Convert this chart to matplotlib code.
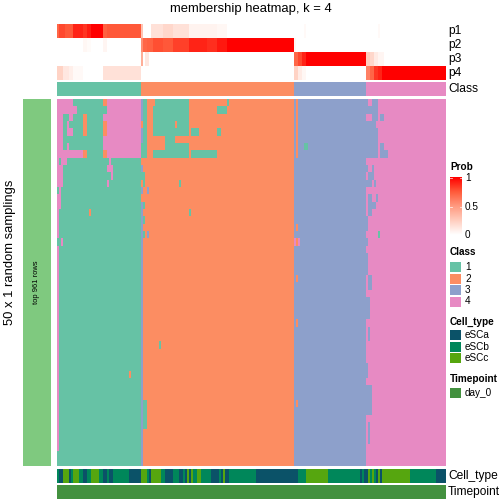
import numpy as np
import matplotlib
matplotlib.use('Agg')
import matplotlib.pyplot as plt
from matplotlib.colors import ListedColormap, LinearSegmentedColormap
from matplotlib.patches import Rectangle

plt.rcParams['font.family'] = ['Liberation Sans', 'DejaVu Sans']

W = H = 504
n_rows = 50

class_names = ['1', '2', '3', '4']
class_sizes = [42, 76, 36, 40]
class_colors = ['#66C2A5', '#FC8D62', '#8DA0CB', '#E78AC3']

# membership probabilities, run-length (ncols, value) read across columns
p1_runs = [(1, .7), (3, .8), (4, .75), (5, .9), (2, .85), (2, .92), (6, 1.), (2, .72), (17, .75),
           (1, .3), (4, 0), (6, .15), (5, .2), (8, .15), (14, .06), (5, .04), (33, 0),
           (5, 0), (1, .03), (30, 0), (6, 0), (1, .03), (33, 0)]
p2_runs = [(13, 0), (2, .04), (2, .02), (6, 0), (2, .05), (17, 0),
           (1, .55), (2, .7), (3, .72), (5, .78), (5, .75), (8, .82), (9, .9), (5, .87), (5, .93), (33, 1.),
           (1, .04), (35, 0), (40, 0)]
p3_runs = [(42, 0), (1, .4), (1, 0), (2, .12), (72, 0),
           (2, .7), (2, .8), (2, .9), (30, 1.),
           (2, .25), (2, .2), (2, .1), (3, .05), (31, 0)]
p4_runs = [(3, .22), (3, .12), (2, .08), (5, .03), (10, 0), (2, .15), (17, .15),
           (76, 0),
           (2, .22), (2, .1), (2, .04), (30, 0),
           (2, .6), (2, .7), (2, .85), (2, .9), (32, 1.)]

# cell type per column, run-length (type, ncols)
cell_types = ['eSCa', 'eSCb', 'eSCc']
cell_colors = ['#0B5268', '#00875A', '#56A60F']
cell_runs = [('b', 1), ('a', 2), ('c', 3), ('a', 1), ('b', 1), ('c', 3), ('b', 2), ('a', 2), ('b', 2),
             ('c', 4), ('b', 2), ('a', 2), ('b', 1), ('a', 2), ('b', 8), ('a', 6),
             ('c', 3), ('b', 1), ('a', 1), ('c', 5), ('b', 2), ('a', 4), ('b', 3), ('a', 2), ('b', 1),
             ('a', 1), ('c', 1), ('a', 1), ('c', 1), ('b', 2), ('c', 2), ('b', 5), ('a', 4), ('b', 1),
             ('a', 1), ('c', 1), ('a', 2), ('b', 13), ('a', 21),
             ('b', 4), ('c', 11), ('b', 16), ('a', 1), ('b', 1), ('a', 2), ('c', 1), ('b', 1), ('c', 1),
             ('b', 1), ('a', 1), ('c', 1), ('a', 1), ('c', 14), ('b', 13), ('a', 5)]
timepoint_color = '#43913F'

# class calls in the 50 samplings that differ from the consensus: (row0, row1, col0, col1, class)
overrides = [
    (0, 1, 0, 8, 4), (0, 1, 23, 25, 2), (0, 1, 25, 42, 4),
    (1, 2, 0, 10, 4), (1, 2, 25, 42, 4),
    (2, 3, 0, 3, 4), (2, 3, 6, 8, 4), (2, 3, 13, 15, 2), (2, 3, 23, 42, 4),
    (3, 4, 0, 3, 4), (3, 4, 5, 6, 4), (3, 4, 13, 15, 2), (3, 4, 23, 25, 2), (3, 4, 25, 42, 4),
    (4, 5, 0, 3, 4), (4, 5, 5, 8, 4), (4, 5, 13, 15, 2), (4, 5, 23, 25, 2), (4, 5, 25, 42, 4),
    (5, 6, 0, 3, 4), (5, 6, 23, 42, 4),
    (6, 7, 0, 3, 4), (6, 7, 5, 6, 4), (6, 7, 23, 42, 4),
    (7, 8, 0, 13, 4), (7, 8, 13, 15, 2), (7, 8, 23, 25, 2), (7, 8, 25, 42, 4),
    (8, 9, 0, 1, 4), (8, 9, 2, 5, 4), (8, 9, 26, 27, 4),
    (9, 10, 0, 3, 4), (9, 10, 25, 28, 4),
    (10, 11, 0, 3, 4), (10, 11, 27, 28, 4),
    (11, 12, 0, 3, 4), (11, 12, 25, 26, 4),
    (12, 13, 1, 2, 4), (13, 15, 0, 2, 4), (15, 16, 0, 1, 4), (15, 16, 16, 17, 2),
    (16, 19, 0, 1, 4), (19, 20, 2, 3, 4), (20, 48, 0, 1, 4), (37, 38, 36, 37, 2),
    # class 2 block
    (0, 3, 42, 43, 3), (4, 6, 42, 43, 3), (6, 8, 42, 43, 1), (0, 8, 43, 45, 1),
    (0, 1, 49, 66, 1), (0, 1, 85, 86, 1),
    (1, 2, 48, 66, 1), (1, 2, 80, 85, 1),
    (2, 3, 48, 66, 1),
    (3, 4, 48, 59, 1), (3, 4, 60, 66, 1),
    (4, 5, 48, 66, 1), (4, 5, 67, 71, 1), (4, 5, 80, 82, 1),
    (5, 6, 54, 59, 1), (6, 7, 54, 66, 1),
    (7, 8, 48, 66, 1), (7, 8, 67, 80, 1),
    (9, 10, 42, 43, 3), (10, 11, 42, 44, 1),
    (11, 12, 43, 44, 1), (11, 12, 61, 62, 1),
    (12, 13, 42, 43, 3), (12, 13, 45, 46, 3),
    (14, 15, 42, 43, 3), (14, 15, 43, 44, 1),
    (15, 16, 42, 43, 3), (15, 16, 66, 67, 1),
    (16, 17, 42, 43, 3), (16, 17, 43, 44, 1), (17, 18, 42, 43, 3),
    (18, 19, 42, 43, 3), (18, 19, 43, 44, 1), (18, 19, 45, 46, 3), (19, 20, 42, 43, 3),
    (20, 50, 42, 43, 3), (41, 45, 43, 45, 1), (33, 34, 51, 52, 1),
    # class 3 / 4 blocks
    (0, 8, 119, 120, 2),
    (0, 1, 154, 155, 3), (0, 1, 157, 160, 3), (1, 2, 154, 160, 3),
    (2, 3, 157, 160, 3), (2, 3, 161, 163, 3), (3, 4, 154, 159, 3), (4, 6, 154, 160, 3),
    (6, 7, 123, 125, 1), (6, 7, 154, 160, 3), (6, 7, 161, 163, 3),
    (7, 8, 154, 160, 3), (7, 8, 161, 165, 3),
    (9, 10, 154, 155, 3), (9, 10, 157, 158, 3), (10, 11, 155, 158, 3),
    (11, 12, 154, 157, 3), (11, 12, 158, 159, 3),
    (13, 14, 155, 157, 3), (13, 14, 159, 160, 3), (14, 15, 155, 159, 3), (15, 16, 155, 157, 3),
    (16, 18, 154, 155, 3), (17, 18, 119, 120, 2), (18, 19, 160, 161, 1),
    (19, 20, 118, 119, 4), (19, 20, 119, 120, 2), (19, 20, 120, 121, 4), (19, 20, 154, 155, 3),
    (21, 24, 154, 155, 3), (24, 26, 155, 157, 3), (27, 30, 154, 156, 3), (31, 33, 155, 156, 3),
    (36, 38, 154, 155, 3), (39, 43, 154, 157, 3), (44, 47, 155, 156, 3),
    (24, 25, 119, 120, 2), (30, 31, 119, 120, 2), (41, 42, 119, 120, 2),
]


def expand(runs):
    return np.concatenate([np.full(n, v, dtype=float) for n, v in runs])


n_cols = sum(class_sizes)
consensus = np.repeat(np.arange(1, 5), class_sizes)
membership = np.tile(consensus, (n_rows, 1))
for r0, r1, c0, c1, k in overrides:
    membership[r0:r1, c0:c1] = k

probs = np.vstack([expand(p1_runs), expand(p2_runs), expand(p3_runs), expand(p4_runs)])
cell_idx = np.concatenate([np.full(n, 'abc'.index(t)) for t, n in cell_runs])

fig = plt.figure(figsize=(7, 7), dpi=72)


def px_axes(x0, y0, x1, y1):
    ax = fig.add_axes([x0 / W, 1 - y1 / H, (x1 - x0) / W, (y1 - y0) / H])
    ax.set_axis_off()
    return ax


prob_cmap = LinearSegmentedColormap.from_list(
    'prob', ['#FFFFFF', '#FFCDBE', '#FF9A80', '#FF5A3A', '#FF0000'])
class_cmap = ListedColormap(class_colors)

X0, X1 = 57, 445
ax = px_axes(X0, 24, X1, 80)
ax.imshow(probs, aspect='auto', cmap=prob_cmap, vmin=0, vmax=1, interpolation='nearest')
ax = px_axes(X0, 82, X1, 96)
ax.imshow(consensus[None, :], aspect='auto', cmap=class_cmap, vmin=0.5, vmax=4.5,
          interpolation='nearest')
ax = px_axes(X0, 99, X1, 466)
ax.imshow(membership, aspect='auto', cmap=class_cmap, vmin=0.5, vmax=4.5, interpolation='nearest')
ax = px_axes(X0, 469, X1, 483)
ax.imshow(cell_idx[None, :], aspect='auto', cmap=ListedColormap(cell_colors), vmin=-0.5,
          vmax=2.5, interpolation='nearest')
ax = px_axes(X0, 484.5, X1, 499)
ax.imshow(np.zeros((1, n_cols)), aspect='auto', cmap=ListedColormap([timepoint_color]),
          interpolation='nearest')

# overlay in pixel units for labels and legends
ov = px_axes(0, 0, W, H)
ov.set_xlim(0, W)
ov.set_ylim(H, 0)

ov.text(251, 9, 'membership heatmap, k = 4', ha='center', va='center', fontsize=13)
for lab, y in zip(['p1', 'p2', 'p3', 'p4', 'Class', 'Cell_type', 'Timepoint'],
                  [31, 45, 59, 73, 89, 476, 492]):
    ov.text(448, y, lab, ha='left', va='center', fontsize=12)

ov.add_patch(Rectangle((23, 99), 28, 367, color='#7FC97F', lw=0))
ov.text(37, 282, 'top 961 rows', rotation=90, ha='center', va='center', fontsize=7.5)
ov.text(10, 252, '50 x 1 random samplings', rotation=90, ha='center', va='center', fontsize=13)

# Prob legend
ov.text(450, 167, 'Prob', fontweight='bold', fontsize=10, va='center')
grad = np.linspace(1, 0, 100)[:, None]
ov.imshow(grad, extent=(450, 462, 235, 177), cmap=prob_cmap, vmin=0, vmax=1, aspect='auto')
for v, lab in [(1, '1'), (0.5, '0.5'), (0, '0')]:
    y = 235 - v * 57
    ov.text(465, y, lab, fontsize=10, va='center')
    if v > 0:
        ov.plot([450, 452], [y, y], color='white', lw=0.8, alpha=0.8)
        ov.plot([460, 462], [y, y], color='white', lw=0.8, alpha=0.8)

# Class legend
ov.text(450, 252, 'Class', fontweight='bold', fontsize=10, va='center')
for i, (lab, c) in enumerate(zip(class_names, class_colors)):
    y = 262 + i * 11.5
    ov.add_patch(Rectangle((450, y), 11, 10, color=c, lw=0))
    ov.text(465, y + 5, lab, fontsize=10, va='center')

ov.text(450, 322, 'Cell_type', fontweight='bold', fontsize=10, va='center')
for i, (lab, c) in enumerate(zip(cell_types, cell_colors)):
    y = 330 + i * 11.5
    ov.add_patch(Rectangle((450, y), 11, 10, color=c, lw=0))
    ov.text(465, y + 5, lab, fontsize=10, va='center')

ov.text(450, 379, 'Timepoint', fontweight='bold', fontsize=10, va='center')
ov.add_patch(Rectangle((450, 388), 11, 10, color=timepoint_color, lw=0))
ov.text(465, 393, 'day_0', fontsize=10, va='center')
ov.set_xlim(0, W)
ov.set_ylim(H, 0)

fig.savefig('out.png', dpi=72)
